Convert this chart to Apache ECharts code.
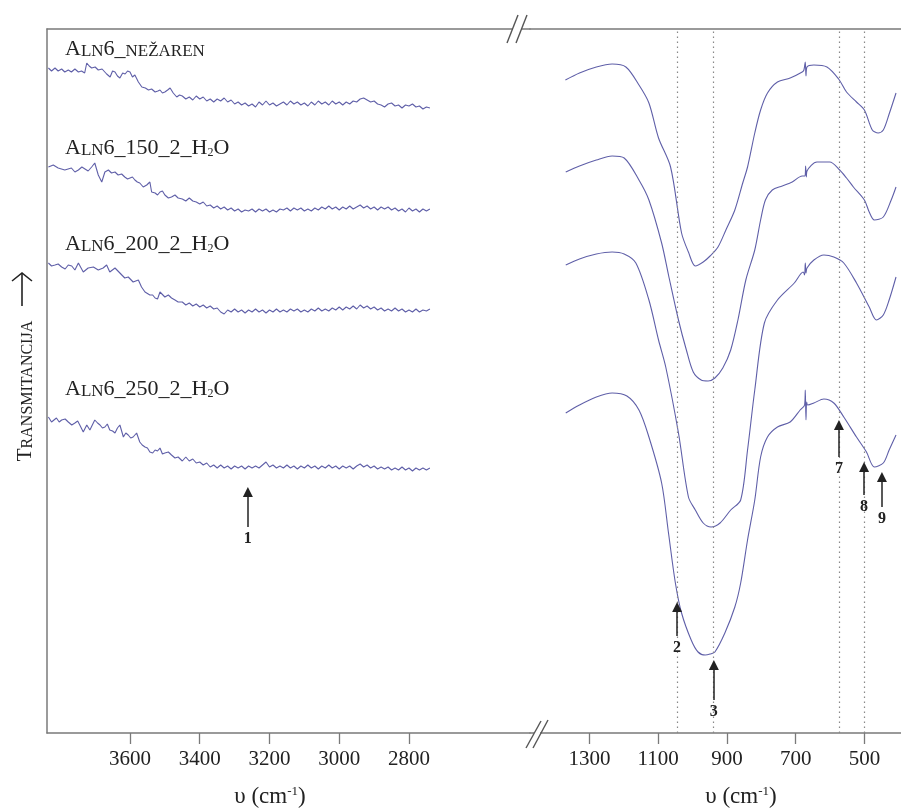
<!DOCTYPE html>
<html><head><meta charset="utf-8">
<script src="https://cdn.jsdelivr.net/npm/echarts@6/dist/echarts.min.js"></script>
<style>html,body{margin:0;padding:0;background:#fff}#c{width:901px;height:810px}</style>
</head><body><div id="c"></div>
<script>
// ---- tick labels ----
const ticksLeft = [3600, 3400, 3200, 3000, 2800];
const ticksRight = [1300, 1100, 900, 700, 500];

// ---- band positions (dotted lines) ----
const bandWn = [1045, 940, 574, 500];

// ---- peak arrows: number, wavenumber, tail value, head value ----
const peakNum  = ['1', '2', '3', '7', '8', '9'];
const peakWn   = [3262, 1045, 938, 574, 501, 449];
const peakTail = [206, 97, 33, 276, 238, 226];
const peakHead = [241, 126, 68, 308, 266, 256];

// ---- shared sampling of the flat part of the left panel ----
const wnFlat = [
  3450,3440,3430,3420,3410,3400,3390,3380,3370,3360,3350,3340,
  3330,3320,3310,3300,3290,3280,3270,3260,3250,3240,3230,3220,
  3210,3200,3190,3180,3170,3160,3150,3140,3130,3120,3110,3100,
  3090,3080,3070,3060,3050,3040,3030,3020,3010,3000,2990,2980,
  2970,2960,2950,2940,2930,2920,2910,2900,2890,2880,2870,2860,
  2850,2840,2830,2820,2810,2800,2790,2780,2770,2760,2750,2740];

// ---- spectrum 1: ALN6_nežaren ----
const wnL1a = [3834,3825,3815,3806,3796,3787,3777,3768,3758,3748,3739,3730,3724,3717,3710,3700,3691,3680,3667,3657,3650,3643,3636,3629,3621,3614,3607,3600,3593,3586,3576,3566,3556,3547,3538,3528,3520,3514,3507,3500,3492,3485,3476,3466,3458];
const tL1a  = [665,662,665,662,664,661,663,661,664,661,662,660,670,667,665,666,663,664,659,656,662,661,657,655,660,659,662,661,656,658,651,646,645,643,644,641,642,643,640,641,643,645,640,636,638];
const tL1b  = [
  637,634,636,633,637,634,636,632,634,631,634,632,
  635,631,633,629,631,628,630,627,629,626,631,628,
  632,628,630,627,629,631,628,632,629,631,628,630,
  627,631,628,632,629,631,628,632,629,631,628,631,
  629,632,631,634,635,633,631,632,629,628,626,629,
  630,627,628,625,628,627,629,626,627,624,626,625];
const wnR1 = [1370,1329,1280,1234,1194,1156,1127,1099,1064,1032,1012,992,969,949,926,903,877,854,840,819,802,782,753,716,681,676,672,670,667,647,609,575,552,523,500,477,460,445,428,408];
const tR1  = [653,660,666,669,666,648,630,595,566,500,481,467,471,477,486,503,523,550,566,600,623,640,651,655,661,663,671,657,666,668,666,654,641,631,623,603,600,603,619,640];

// ---- spectrum 2: ALN6_150_2_H2O ----
const wnL2a = [3834,3820,3806,3787,3768,3758,3748,3738,3729,3720,3710,3701,3691,3681,3672,3662,3653,3643,3634,3624,3615,3607,3600,3593,3586,3579,3572,3562,3552,3543,3538,3528,3521,3514,3507,3500,3490,3481,3471,3462];
const tL2a  = [566,568,565,563,565,561,563,566,564,562,566,570,558,551,561,563,560,561,558,559,556,554,555,556,553,551,550,546,548,551,541,540,538,541,542,538,535,536,538,535];
const tL2b  = [
  534,532,535,532,531,529,531,527,528,525,527,524,
  526,523,525,522,524,521,523,522,524,521,524,522,
  524,521,523,521,524,523,525,522,525,523,525,522,
  524,522,525,523,526,524,527,524,526,523,526,524,
  527,524,526,528,525,527,524,526,523,526,524,526,
  523,525,522,524,521,525,522,524,521,524,522,524];
const wnR2 = [1369,1329,1280,1234,1199,1156,1127,1090,1070,1041,1018,998,975,955,935,912,889,868,845,819,802,788,768,739,710,681,673,671,669,667,638,601,572,552,532,500,486,471,445,422,408];
const tR2  = [561,567,573,577,575,553,533,490,458,413,383,361,353,352,355,365,383,413,453,483,513,533,543,547,551,557,557,567,556,562,571,571,563,555,546,533,521,513,516,533,546];

// ---- spectrum 3: ALN6_200_2_H2O ----
const wnL3a = [3834,3825,3815,3806,3796,3786,3777,3767,3758,3748,3734,3720,3705,3691,3677,3667,3658,3643,3629,3615,3605,3591,3586,3576,3567,3557,3543,3535,3528,3521,3514,3500,3490,3481,3471,3462];
const tL3a  = [470,467,468,469,466,464,468,467,463,470,461,465,466,463,465,468,461,465,460,455,456,451,449,453,446,441,438,438,435,434,441,436,438,435,433,431];
const tL3b  = [
  431,428,430,427,429,426,428,425,427,424,425,421,
  419,423,421,424,421,423,420,423,421,424,421,423,
  420,423,421,424,421,423,421,424,422,424,421,423,
  421,424,422,425,422,424,422,425,423,426,423,426,
  424,427,424,428,425,427,424,426,423,425,422,424,
  422,425,422,424,421,423,421,424,421,423,422,424];
const wnR3 = [1369,1329,1280,1234,1199,1165,1127,1099,1078,1041,1012,992,969,946,920,889,860,840,819,791,753,704,678,674,672,670,667,647,618,589,560,523,486,465,445,428,408];
const tR3  = [468,474,479,481,479,470,433,393,366,300,236,223,210,206,210,223,233,283,343,410,433,450,461,458,470,460,465,473,478,476,470,450,426,413,418,433,456];

// ---- spectrum 4: ALN6_250_2_H2O ----
const wnL4a = [3834,3825,3811,3803,3796,3786,3777,3767,3758,3750,3744,3734,3724,3715,3701,3693,3686,3679,3672,3665,3658,3650,3643,3636,3629,3619,3612,3605,3598,3591,3581,3572,3565,3557,3550,3543,3535,3528,3521,3514,3507,3500,3490,3481,3471,3462];
const tL4a  = [316,311,315,311,313,314,311,308,310,312,308,301,308,303,313,310,308,305,306,309,303,302,300,305,308,296,300,298,295,296,300,291,288,286,285,281,280,283,282,285,279,280,281,278,275,276];
const tL4b  = [
  272,276,272,274,270,271,268,270,266,268,265,268,
  265,267,264,267,265,267,264,267,265,267,265,268,
  271,266,268,265,267,265,268,265,267,264,267,265,
  268,265,267,264,267,265,268,265,267,264,267,265,
  267,264,267,269,266,268,265,267,264,266,264,266,
  263,265,263,266,263,265,262,265,263,265,263,265];
const wnR4 = [1369,1329,1280,1234,1191,1156,1127,1090,1070,1050,1032,1004,984,963,949,935,906,877,860,840,819,802,782,753,716,687,674,672,670,668,665,647,618,589,560,523,494,471,445,428,408];
const tR4  = [320,328,336,340,337,323,296,250,200,150,120,93,81,78,79,81,100,126,150,193,233,276,296,306,311,323,328,343,313,331,328,330,334,330,316,296,281,266,270,283,298];

const FONT = 'Liberation Serif';
const LINE = '#5f5fa8';
const AXIS = '#7a7a7a';

function pairs(w, v) { return w.map((x, i) => [x, v[i]]); }

const chart = echarts.init(document.getElementById('c'), null, {renderer: 'canvas'});

const axisBase = {
  type: 'value', inverse: true, splitLine: {show: false},
  axisLine: {show: true, onZero: false, lineStyle: {color: AXIS, width: 1.5}},
};

function bottomX(grid, min, max, ticks) {
  return Object.assign({}, axisBase, {
    gridIndex: grid, position: 'bottom', min: min, max: max,
    axisTick: {show: true, inside: false, length: 11, lineStyle: {color: AXIS, width: 1.3}, customValues: ticks},
    axisLabel: {show: true, margin: 16, fontFamily: FONT, fontSize: 21, color: '#222', customValues: ticks,
      formatter: v => String(v)},
  });
}
function topX(grid, min, max) {
  return Object.assign({}, axisBase, {
    gridIndex: grid, position: 'top', min: min, max: max,
    axisTick: {show: false}, axisLabel: {show: false},
  });
}

function spec(grid, w, v, extra) {
  return Object.assign({
    type: 'line', xAxisIndex: grid, yAxisIndex: grid, data: pairs(w, v),
    showSymbol: false, symbol: 'none', animation: false, silent: true,
    lineStyle: {color: LINE, width: 1.1}, z: 3,
  }, extra || {});
}

function arrowItems(idx) {
  return idx.map(i => [
    {name: peakNum[i], coord: [peakWn[i], peakTail[i]]},
    {coord: [peakWn[i], peakHead[i]]},
  ]);
}
const arrowStyle = {
  silent: true, animation: false, symbol: ['none', 'triangle'], symbolSize: 10,
  lineStyle: {color: '#222', width: 1.5, type: 'solid'},
  itemStyle: {color: '#222'},
  label: {show: true, position: 'start', formatter: '{b}', fontFamily: FONT, fontWeight: 'bold', fontSize: 16, color: '#222', distance: 4},
};

const rich = {
  a: {fontFamily: FONT, fontSize: 22, fill: '#222', verticalAlign: 'bottom'},
  s: {fontFamily: FONT, fontSize: 17, fill: '#222', verticalAlign: 'bottom'},
  sub: {fontFamily: FONT, fontSize: 12, fill: '#222', verticalAlign: 'bottom'},
};
const nameTexts = [
  '{a|A}{s|LN}{a|6_}{s|NEŽAREN}',
  '{a|A}{s|LN}{a|6_150_2_H}{sub|2}{a|O}',
  '{a|A}{s|LN}{a|6_200_2_H}{sub|2}{a|O}',
  '{a|A}{s|LN}{a|6_250_2_H}{sub|2}{a|O}',
];
const nameY = [60, 159, 255, 400];

const graphics = [];
nameTexts.forEach((t, i) => graphics.push({
  type: 'text', x: 65, y: nameY[i], z: 10,
  style: {text: t, rich: rich, align: 'left', verticalAlign: 'bottom', fill: '#222'},
}));
// y-axis title
graphics.push({
  type: 'text', x: 25, y: 391, rotation: Math.PI / 2, z: 10,
  style: {text: '{a|T}{s|RANSMITANCIJA}', align: 'center', verticalAlign: 'middle',
    rich: {a: {fontFamily: FONT, fontSize: 21, fill: '#222', verticalAlign: 'bottom'},
           s: {fontFamily: FONT, fontSize: 16, fill: '#222', verticalAlign: 'bottom'}}},
});
graphics.push({type: 'line', z: 10, shape: {x1: 22, y1: 306, x2: 22, y2: 273}, style: {stroke: '#222', lineWidth: 1.6}});
graphics.push({type: 'polyline', z: 10, shape: {points: [[12, 281], [22, 273], [32, 281]]}, style: {stroke: '#222', lineWidth: 1.6, fill: null}});
// x axis names
const xName = {
  n: {fontFamily: FONT, fontSize: 23, fill: '#222', verticalAlign: 'bottom'},
  sup: {fontFamily: FONT, fontSize: 13, fill: '#222', verticalAlign: 'top'},
};
[[270, 797], [741, 797]].forEach(p => graphics.push({
  type: 'text', x: p[0], y: p[1], z: 10,
  style: {text: '{n|υ (cm}{sup|-1}{n|)}', rich: xName, align: 'center', verticalAlign: 'middle'},
}));
// axis breaks
graphics.push({type: 'rect', z: 20, shape: {x: 513, y: 26, width: 9, height: 6}, style: {fill: '#fff'}});
graphics.push({type: 'line', z: 21, shape: {x1: 507, y1: 43, x2: 518, y2: 15}, style: {stroke: '#555', lineWidth: 1.4}});
graphics.push({type: 'line', z: 21, shape: {x1: 516, y1: 43, x2: 527, y2: 15}, style: {stroke: '#555', lineWidth: 1.4}});
graphics.push({type: 'rect', z: 20, shape: {x: 534, y: 730, width: 6, height: 6}, style: {fill: '#fff'}});
graphics.push({type: 'line', z: 21, shape: {x1: 526, y1: 748, x2: 541, y2: 721}, style: {stroke: '#555', lineWidth: 1.4}});
graphics.push({type: 'line', z: 21, shape: {x1: 533, y1: 748, x2: 548, y2: 720}, style: {stroke: '#555', lineWidth: 1.4}});

const rightExtra = {smooth: 0.3};

const option = {
  backgroundColor: '#fff',
  animation: false,
  grid: [
    {left: 47, top: 29, width: 483, height: 704},
    {left: 530, top: 29, width: 375, height: 704},
  ],
  xAxis: [
    bottomX(0, 2453, 3838, ticksLeft),
    bottomX(1, 393.5, 1473, ticksRight),
    topX(0, 2453, 3838),
    topX(1, 393.5, 1473),
  ],
  yAxis: [
    {type: 'value', gridIndex: 0, min: 0, max: 704, splitLine: {show: false}, axisTick: {show: false}, axisLabel: {show: false},
     axisLine: {show: true, lineStyle: {color: AXIS, width: 1.5}}},
    {type: 'value', gridIndex: 1, min: 0, max: 704, show: false},
  ],
  series: [
    spec(0, wnL1a.concat(wnFlat), tL1a.concat(tL1b)),
    spec(0, wnL2a.concat(wnFlat), tL2a.concat(tL2b)),
    spec(0, wnL3a.concat(wnFlat), tL3a.concat(tL3b)),
    spec(0, wnL4a.concat(wnFlat), tL4a.concat(tL4b), {markLine: Object.assign({}, arrowStyle, {data: arrowItems([0])})}),
    spec(1, wnR1, tR1, Object.assign({markLine: {silent: true, animation: false, symbol: ['none', 'none'], label: {show: false},
      lineStyle: {color: '#888', width: 1.2, type: [1.5, 3.5]}, data: bandWn.map(w => ({xAxis: w}))}}, rightExtra)),
    spec(1, wnR2, tR2, rightExtra),
    spec(1, wnR3, tR3, rightExtra),
    spec(1, wnR4, tR4, Object.assign({markLine: Object.assign({}, arrowStyle, {data: arrowItems([1, 2, 3, 4, 5])})}, rightExtra)),
  ],
  graphic: graphics,
};
chart.setOption(option);
</script>
</body></html>
